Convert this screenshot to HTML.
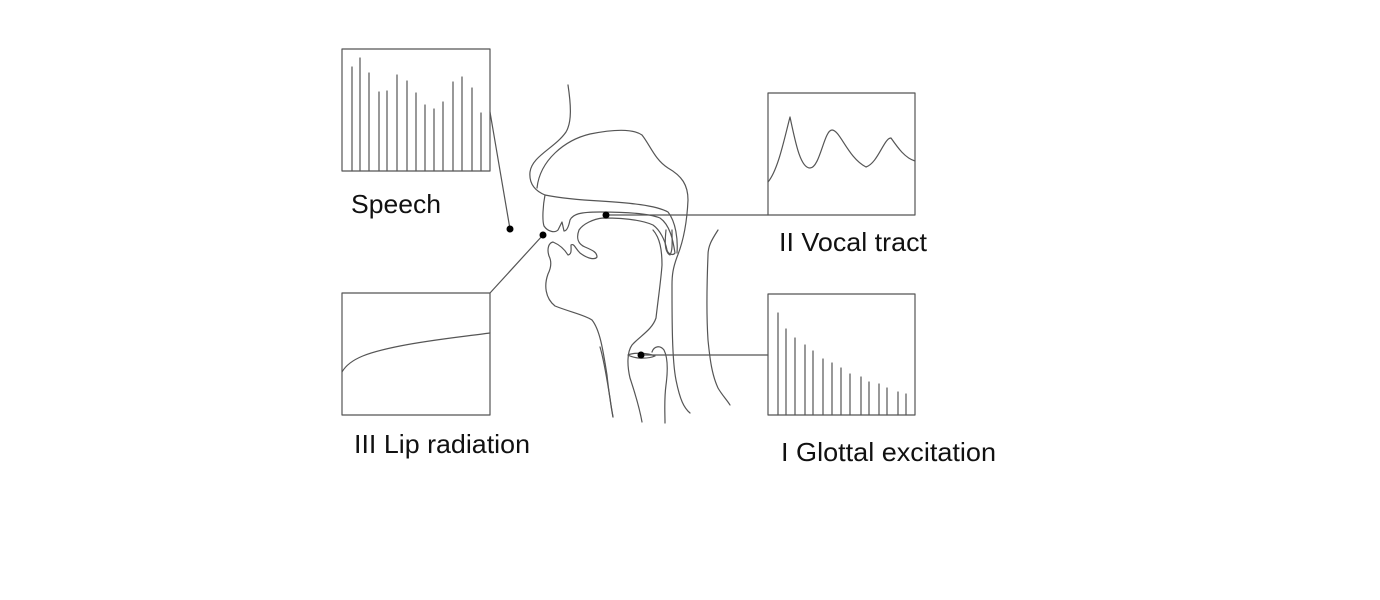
<!DOCTYPE html>
<html><head><meta charset="utf-8"><style>
html,body{margin:0;padding:0;background:#fff;width:1380px;height:600px;overflow:hidden}
svg{display:block}
text{font-family:"Liberation Sans",Arial,sans-serif;font-size:26px;fill:#111}
</style></head><body>
<svg width="1380" height="600" viewBox="0 0 1380 600" xmlns="http://www.w3.org/2000/svg">
<g fill="none" stroke="#555" stroke-width="1.2" stroke-linejoin="round" stroke-linecap="round">
<rect x="342" y="49" width="148" height="122"/>
<rect x="342" y="293" width="148" height="122"/>
<rect x="768" y="93" width="147" height="122"/>
<rect x="768" y="294" width="147" height="121"/>
<path d="M352,171V67M360,171V58M369,171V73M379,171V92M387,171V91M397,171V75M407,171V81M416,171V93M425,171V105M434,171V109M443,171V102M453,171V82M462,171V77M472,171V88M481,171V113"/>
<path d="M342,372 C350,358 370,352 400,346 C430,340 460,337 490,333"/>
<path d="M768,182 C778,170 784,140 790,117 C795,140 800,168 810,168 C820,168 824,130 832,130 C840,130 848,158 866,167 C878,163 884,138 891,138 C898,148 905,158 915,161"/>
<path d="M778,415V313M786,415V329M795,415V338M805,415V345M813,415V351M823,415V359M832,415V363M841,415V368M850,415V374M861,415V377M869,415V382M879,415V384M887,415V388M898,415V392M906,415V394"/>
<path d="M490,112 L510,229"/>
<path d="M543,235 L490,293"/>
<path d="M606,215 L768,215"/>
<path d="M641,355 L768,355"/>
<path d="M568,85 C571,105 572,122 566,132 C555,148 532,156 530,172 C529,182 533,190 545,195 C560,198 580,200 600,201 C630,203 655,205 668,212 C676,222 678,240 677,253"/>
<path d="M537,188 C540,160 565,140 590,134 C610,130 632,128 642,135 C650,145 655,160 668,168 C682,176 688,185 688,200 C687,222 684,240 677,257 C673,268 672,275 672,285 C672,320 672,360 676,380 C680,400 684,408 690,413"/>
<path d="M545,195 C543,205 542,220 544,226 C548,232 555,233 558,230 L562,222 L564,231 C567,231 569,225 570,220 C573,214 580,212 600,212 C625,212 648,213 660,218 C670,225 673,240 675,253 C673,256 668,254 667,250 C665,240 660,230 653,225 C640,219 620,218 603,218 C593,219 583,224 579,230 C576,238 578,244 585,247 C592,250 597,252 597,257 C595,260 588,259 580,253 C575,248 574,243 571,245 C571,250 572,254 568,255 C565,250 560,245 553,242 C548,243 547,250 549,256 C552,262 551,268 548,274 C544,285 545,298 555,306 C570,312 585,315 592,320 C600,330 603,350 607,375 C609,395 611,405 613,417"/>
<path d="M653,230 C660,238 662,250 662,265 C661,280 658,300 656,318 C652,330 640,336 632,345 C627,352 627,365 630,378 C634,390 639,405 642,422"/>
<path d="M666,230 C665,240 664,252 670,255 C673,250 672,240 672,230"/>
<path d="M652,352 C654,346 660,345 664,350 C668,358 668,370 666,385 C664,400 665,412 665,423"/>
<path d="M628,355 C635,352 648,353 655,356 C648,359 635,359 628,355"/>
<path d="M718,230 C713,238 708,245 708,255 C707,280 706,310 708,340 C710,360 712,375 718,388 C722,395 727,400 730,405"/>
<path d="M600,347 C604,360 607,380 610,398 C611,406 612,412 613,417"/>
</g>
<g fill="#000">
<circle cx="510" cy="229" r="3.5"/>
<circle cx="543" cy="235" r="3.5"/>
<circle cx="606" cy="215" r="3.5"/>
<circle cx="641" cy="355" r="3.5"/>
</g>
<text x="351" y="213" textLength="90" lengthAdjust="spacingAndGlyphs">Speech</text>
<text x="354" y="453" textLength="176" lengthAdjust="spacingAndGlyphs">III Lip radiation</text>
<text x="779" y="251" textLength="148" lengthAdjust="spacingAndGlyphs">II Vocal tract</text>
<text x="781" y="461" textLength="215" lengthAdjust="spacingAndGlyphs">I Glottal excitation</text>
</svg>
</body></html>
